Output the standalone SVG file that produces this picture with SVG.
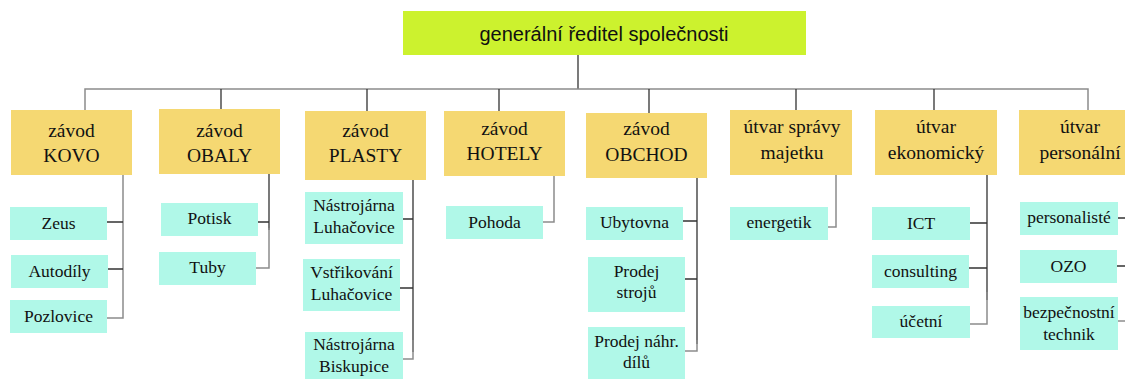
<svg xmlns="http://www.w3.org/2000/svg" width="1125" height="379" viewBox="0 0 1125 379">
  <style>
    .top { fill: #ccf22e; }
    .unit { fill: #f5d872; }
    .dept { fill: #b0f8e8; }
    .t-top { font-family: "Liberation Sans", Arial, sans-serif; font-size: 20px; fill: #111; text-anchor: middle; }
    .t-unit { font-family: "Liberation Serif", "Times New Roman", serif; font-size: 19.5px; fill: #111; text-anchor: middle; }
    .t-dept { font-family: "Liberation Serif", "Times New Roman", serif; font-size: 17.5px; fill: #111; text-anchor: middle; }
    .ln { fill: none; stroke: #333; stroke-width: 1.3; }
    .lg { fill: none; stroke: #8c8c8c; stroke-width: 1.5; }
  </style>

  <!-- connectors -->
  <g id="connectors">
    <!-- director to units -->
    <path class="ln" d="M578 55V89"/>
    <path class="lg" d="M85 110V89H1088V110"/>
    <path class="ln" d="M221 89V109M367 89V111M499 89V111M649 89V113M796 89V110M934 89V110"/>
    <!-- KOVO -->
    <path class="lg" d="M123 175V318H107"/>
    <path class="ln" d="M105 222H123M108 269H123"/>
    <!-- OBALY -->
    <path class="ln" d="M269 174V230M258 222H269"/>
    <path class="lg" d="M269 228V268H256"/>
    <!-- PLASTY -->
    <path class="ln" d="M413 180V352M403 219H413M400 288H413"/>
    <path class="lg" d="M413 340V359H403"/>
    <!-- HOTELY -->
    <path class="lg" d="M554 176V222H543"/>
    <!-- OBCHOD -->
    <path class="ln" d="M697 178V344M683 221H697M685 279H697"/>
    <path class="lg" d="M697 340V351H685"/>
    <!-- správa majetku -->
    <path class="lg" d="M836 175V227H828"/>
    <!-- ekonomický -->
    <path class="ln" d="M987 175V300M970 223H987M969 268H987"/>
    <path class="lg" d="M987 292V324H970"/>
    <!-- personální -->
    <path class="ln" d="M1118 218H1125M1117 266H1125"/>
    <path class="lg" d="M1118 321H1125"/>
  </g>

  <!-- top -->
  <g id="director">
    <rect class="top" x="403" y="11" width="403" height="44"/>
    <text class="t-top" x="604" y="41">generální ředitel společnosti</text>
  </g>

  <!-- units -->
  <g id="kovo">
    <rect class="unit" x="11" y="110" width="121" height="65"/>
    <text class="t-unit" x="71.5" y="137">závod</text>
    <text class="t-unit" x="71.5" y="162">KOVO</text>
  </g>
  <g id="obaly">
    <rect class="unit" x="159" y="109" width="121" height="65"/>
    <text class="t-unit" x="219.5" y="137">závod</text>
    <text class="t-unit" x="219.5" y="162">OBALY</text>
  </g>
  <g id="plasty">
    <rect class="unit" x="305" y="111" width="121" height="69"/>
    <text class="t-unit" x="365.5" y="137">závod</text>
    <text class="t-unit" x="365.5" y="162">PLASTY</text>
  </g>
  <g id="hotely">
    <rect class="unit" x="444" y="111" width="121" height="65"/>
    <text class="t-unit" x="504.5" y="135">závod</text>
    <text class="t-unit" x="504.5" y="160">HOTELY</text>
  </g>
  <g id="obchod">
    <rect class="unit" x="586" y="113" width="121" height="65"/>
    <text class="t-unit" x="646.5" y="135">závod</text>
    <text class="t-unit" x="646.5" y="161">OBCHOD</text>
  </g>
  <g id="sprava-majetku">
    <rect class="unit" x="730" y="110" width="122" height="65"/>
    <text class="t-unit" x="792" y="133">útvar správy</text>
    <text class="t-unit" x="792" y="159">majetku</text>
  </g>
  <g id="ekonomicky">
    <rect class="unit" x="875" y="110" width="122" height="65"/>
    <text class="t-unit" x="936" y="133">útvar</text>
    <text class="t-unit" x="936" y="159">ekonomický</text>
  </g>
  <g id="personalni">
    <rect class="unit" x="1019" y="110" width="122" height="65"/>
    <text class="t-unit" x="1080" y="133">útvar</text>
    <text class="t-unit" x="1080" y="159">personální</text>
  </g>

  <!-- KOVO departments -->
  <g id="zeus">
    <rect class="dept" x="10" y="207" width="97" height="33"/>
    <text class="t-dept" x="58.5" y="229">Zeus</text>
  </g>
  <g id="autodily">
    <rect class="dept" x="11" y="255" width="97" height="33"/>
    <text class="t-dept" x="59.5" y="277">Autodíly</text>
  </g>
  <g id="pozlovice">
    <rect class="dept" x="10" y="300" width="97" height="33"/>
    <text class="t-dept" x="58.5" y="322">Pozlovice</text>
  </g>

  <!-- OBALY departments -->
  <g id="potisk">
    <rect class="dept" x="161" y="203" width="97" height="33"/>
    <text class="t-dept" x="209.5" y="224">Potisk</text>
  </g>
  <g id="tuby">
    <rect class="dept" x="159" y="252" width="97" height="33"/>
    <text class="t-dept" x="207.5" y="273">Tuby</text>
  </g>

  <!-- PLASTY departments -->
  <g id="nastrojarna-luhacovice">
    <rect class="dept" x="305" y="192" width="98" height="52"/>
    <text class="t-dept" x="354" y="211">Nástrojárna</text>
    <text class="t-dept" x="354" y="233">Luhačovice</text>
  </g>
  <g id="vstrikovani-luhacovice">
    <rect class="dept" x="303" y="259" width="97" height="52"/>
    <text class="t-dept" x="351.5" y="278">Vstřikování</text>
    <text class="t-dept" x="351.5" y="300">Luhačovice</text>
  </g>
  <g id="nastrojarna-biskupice">
    <rect class="dept" x="305" y="332" width="98" height="47"/>
    <text class="t-dept" x="354" y="350">Nástrojárna</text>
    <text class="t-dept" x="354" y="372">Biskupice</text>
  </g>

  <!-- HOTELY departments -->
  <g id="pohoda">
    <rect class="dept" x="446" y="206" width="97" height="33"/>
    <text class="t-dept" x="494.5" y="228">Pohoda</text>
  </g>

  <!-- OBCHOD departments -->
  <g id="ubytovna">
    <rect class="dept" x="586" y="207" width="97" height="33"/>
    <text class="t-dept" x="634.5" y="228">Ubytovna</text>
  </g>
  <g id="prodej-stroju">
    <rect class="dept" x="588" y="257" width="97" height="55"/>
    <text class="t-dept" x="636.5" y="277">Prodej</text>
    <text class="t-dept" x="636.5" y="298">strojů</text>
  </g>
  <g id="prodej-nahr-dilu">
    <rect class="dept" x="588" y="327" width="97" height="52"/>
    <text class="t-dept" x="636.5" y="347">Prodej náhr.</text>
    <text class="t-dept" x="636.5" y="368">dílů</text>
  </g>

  <!-- správa majetku departments -->
  <g id="energetik">
    <rect class="dept" x="730" y="207" width="98" height="33"/>
    <text class="t-dept" x="779" y="228">energetik</text>
  </g>

  <!-- ekonomický departments -->
  <g id="ict">
    <rect class="dept" x="872" y="207" width="98" height="33"/>
    <text class="t-dept" x="921" y="229">ICT</text>
  </g>
  <g id="consulting">
    <rect class="dept" x="872" y="255" width="97" height="33"/>
    <text class="t-dept" x="920.5" y="277">consulting</text>
  </g>
  <g id="ucetni">
    <rect class="dept" x="872" y="306" width="98" height="32"/>
    <text class="t-dept" x="921" y="327">účetní</text>
  </g>

  <!-- personální departments -->
  <g id="personaliste">
    <rect class="dept" x="1020" y="202" width="98" height="33"/>
    <text class="t-dept" x="1069" y="223">personalisté</text>
  </g>
  <g id="ozo">
    <rect class="dept" x="1020" y="250" width="97" height="33"/>
    <text class="t-dept" x="1068.5" y="272">OZO</text>
  </g>
  <g id="bezpecnostni-technik">
    <rect class="dept" x="1020" y="297" width="98" height="53"/>
    <text class="t-dept" x="1069" y="318">bezpečnostní</text>
    <text class="t-dept" x="1069" y="340">technik</text>
  </g>
</svg>
